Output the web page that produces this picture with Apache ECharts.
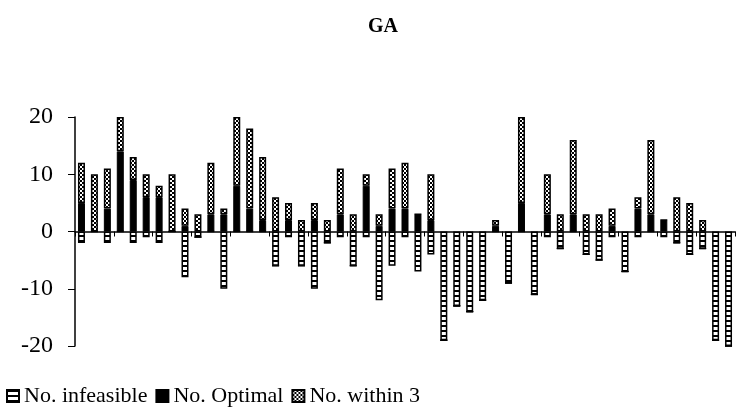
<!DOCTYPE html>
<html>
<head>
<meta charset="utf-8">
<script src="https://cdn.jsdelivr.net/npm/echarts@6/dist/echarts.min.js"></script>
<style>
html,body{margin:0;padding:0;background:#fff;}
#chart{width:736px;height:415px;}
</style>
</head>
<body>
<div id="chart"></div>
<script>
var categories = [];
for (var i = 1; i <= 51; i++) categories.push('P' + i);

var noInfeasible = [-2,0,-2,0,-2,-1,-2,0,-8,-1,0,-10,0,0,0,-6,-1,-6,-10,-2,-1,-6,-1,-12,-6,-1,-7,-4,-19,-13,-14,-12,0,-9,0,-11,-1,-3,0,-4,-5,-1,-7,-1,0,-1,-2,-4,-3,-19,-20];
var noOptimal = [5,0,4,14,9,6,6,0,1,0,3,3,8,4,2,0,2,0,2,0,3,0,8,1,4,4,3,2,0,0,0,0,1,0,5,0,3,0,3,0,0,1,0,4,3,2,0,0,0,0,0];
var noWithin3 = [7,10,7,6,4,4,2,10,3,3,9,1,12,14,11,6,3,2,3,2,8,3,2,2,7,8,0,8,0,0,0,0,1,0,15,0,7,3,13,3,3,3,0,2,13,0,6,5,2,0,0];
var yTicks = [-20,-10,0,10,20];

function makeStripe() {
  var c = document.createElement('canvas');
  c.width = 4; c.height = 5;
  var g = c.getContext('2d');
  g.fillStyle = '#fff'; g.fillRect(0,0,4,5);
  g.fillStyle = '#000'; g.fillRect(0,0,4,2);
  return c;
}
function makeChecker() {
  var c = document.createElement('canvas');
  c.width = 4; c.height = 4;
  var g = c.getContext('2d');
  g.fillStyle = '#fff'; g.fillRect(0,0,4,4);
  g.fillStyle = '#000'; g.fillRect(0,0,2,2); g.fillRect(2,2,2,2);
  return c;
}

var chart = echarts.init(document.getElementById('chart'));
var serif = "'Liberation Serif','Times New Roman',serif";
chart.setOption({
  animation: false,
  backgroundColor: '#fff',
  title: {
    text: 'GA', left: 363, top: 12,
    textStyle: {fontFamily: serif, fontWeight: 'bold', fontSize: 20, color: '#000'}
  },
  legend: {
    left: 1, top: 380, itemWidth: 12, itemHeight: 12, itemGap: 8,
    icon: 'rect',
    textStyle: {fontFamily: serif, fontSize: 22, color: '#000', padding: [0,0,0,0]},
    data: ['No. infeasible','No. Optimal','No. within 3']
  },
  grid: {left: 75, right: 1, top: 117, bottom: 69},
  xAxis: {
    type: 'category', data: categories,
    axisLine: {onZero: true, lineStyle: {color: '#000', width: 1.5}},
    axisTick: {show: true, length: 5, lineStyle: {color: '#000'}},
    axisLabel: {show: false},
    splitLine: {show: false}
  },
  yAxis: {
    type: 'value', min: yTicks[0], max: yTicks[yTicks.length-1], interval: 10,
    axisLine: {show: true, lineStyle: {color: '#000', width: 1.5}},
    axisTick: {show: true, length: 7, lineStyle: {color: '#000'}},
    axisLabel: {fontFamily: serif, fontSize: 24, color: '#000', margin: 22},
    splitLine: {show: false}
  },
  series: [
    {
      name: 'No. infeasible', type: 'bar', stack: 's', data: noInfeasible, barWidth: 7,
      itemStyle: {color: {image: makeStripe(), repeat: 'repeat'}, borderColor: '#000', borderWidth: 1.5}
    },
    {
      name: 'No. Optimal', type: 'bar', stack: 's', data: noOptimal, barWidth: 7,
      itemStyle: {color: '#000', borderColor: '#000', borderWidth: 1}
    },
    {
      name: 'No. within 3', type: 'bar', stack: 's', data: noWithin3, barWidth: 7,
      itemStyle: {color: {image: makeChecker(), repeat: 'repeat'}, borderColor: '#000', borderWidth: 1.5}
    }
  ]
});
</script>
</body>
</html>
